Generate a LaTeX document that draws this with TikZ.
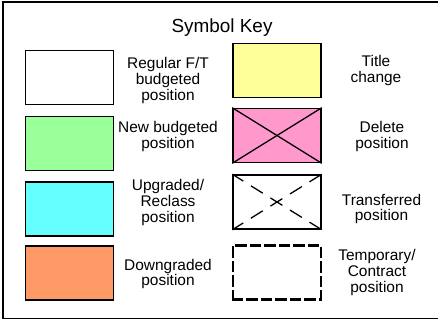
\documentclass[tikz,border=0pt]{standalone}
\usepackage{fontspec}
\setmainfont{Liberation Sans}
\definecolor{keygreen}{RGB}{153,255,153}
\definecolor{keycyan}{RGB}{102,255,255}
\definecolor{keyorange}{RGB}{255,153,102}
\definecolor{keyyellow}{RGB}{255,255,153}
\definecolor{keypink}{RGB}{255,153,204}
\begin{document}
\begin{tikzpicture}[x=1bp, y=-1bp,
		keybox/.style={rectangle, draw, line width=1.6bp, minimum width=88bp, minimum height=54bp, inner sep=0pt},
		keytext/.style={align=center, inner sep=0pt, font=\fontsize{15.5}{15.7}\selectfont},
		tempbox/.style={keybox, line width=2.6bp, dash pattern=on 9bp off 5.5bp, line cap=rect},
		transline/.style={line width=1.3bp, dash pattern=on 14bp off 9bp, dash phase=1bp}]
		\useasboundingbox (0,0) rectangle (438,323);
		\clip (0,0) rectangle (438,323);
		% frame
		\draw[line width=1.6bp] (450,2) -- (3,2) -- (3,318.5) -- (450,318.5);
		\node[anchor=base, font=\fontsize{19}{22}\selectfont] (title) at (222,32) {Symbol Key};
		
		% left column
		\node[keybox, fill=white] (reg) at (69.5,77.5) {};
		\node[keybox, fill=keygreen] (new) at (69.5,143.5) {};
		\node[keybox, fill=keycyan] (upg) at (69.5,209) {};
		\node[keybox, fill=keyorange] (down) at (69.5,273) {};
		\node[keytext] (regl) at (168,80.5) {Regular F/T\\budgeted\\position};
		\node[keytext] (newl) at (168,136.5) {New budgeted\\position};
		\node[keytext] (upgl) at (168,202.5) {Upgraded/\\Reclass\\position};
		\node[keytext] (downl) at (168,274) {Downgraded\\position};
		
		% right column
		\node[keybox, fill=keyyellow] (title chg) at (277,70.5) {};
		\node[keybox, fill=keypink] (del) at (277,135.5) {};
		\node[keybox, fill=white] (trans) at (277,202) {};
		\node[tempbox] (temp) at (277,272.5) {};
		\draw[line width=1.3bp] (del.north west) -- (del.south east);
		\draw[line width=1.3bp] (del.south west) -- (del.north east);
		\draw[transline] (trans.north west) -- (trans.south east);
		\draw[transline] (trans.south west) -- (trans.north east);
		\node[keytext] (titlel) at (376,70.8) {Title\\change};
		\node[keytext] (dell) at (382,136.5) {Delete\\position};
		\node[keytext] (transl) at (381.5,209) {Transferred\\position};
		\node[keytext] (templ) at (377,272.6) {Temporary/\\Contract\\position};
	\end{tikzpicture}
\end{document}
